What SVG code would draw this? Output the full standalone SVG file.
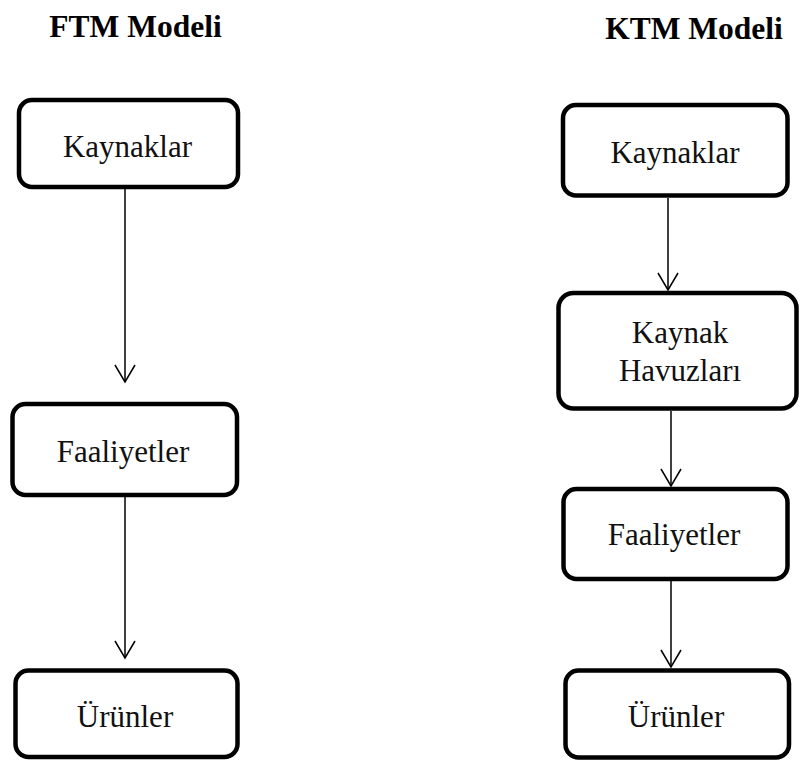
<svg xmlns="http://www.w3.org/2000/svg" width="800" height="760" viewBox="0 0 800 760">
<style>
.box{fill:#fff;stroke:#000;stroke-width:4.5}
.lbl{font-family:"Liberation Serif","Times New Roman",serif;font-size:31px;fill:#111;text-anchor:middle}
.ttl{font-family:"Liberation Serif","Times New Roman",serif;font-size:31.5px;font-weight:bold;fill:#000;text-anchor:middle}
.con{stroke:#000;stroke-width:1.5;fill:none}
</style>
<defs>
<marker id="arr" markerUnits="userSpaceOnUse" markerWidth="40" markerHeight="40" refX="0" refY="0" orient="auto" overflow="visible">
<path d="M-17,-10 L0,0 L-17,10" fill="none" stroke="#000" stroke-width="1.5"/>
</marker>
</defs>
<rect width="800" height="760" fill="#fff"/>
<g id="titles">
<text class="ttl" x="135.5" y="37">FTM Modeli</text>
<text class="ttl" x="694" y="39">KTM Modeli</text>
</g>
<g id="connectors">
<line class="con" x1="125" y1="189" x2="125" y2="382" marker-end="url(#arr)"/>
<line class="con" x1="125" y1="497" x2="125" y2="658" marker-end="url(#arr)"/>
<line class="con" x1="668" y1="198" x2="668" y2="290" marker-end="url(#arr)"/>
<line class="con" x1="671" y1="411" x2="671" y2="486" marker-end="url(#arr)"/>
<line class="con" x1="671" y1="581" x2="671" y2="667" marker-end="url(#arr)"/>
</g>
<g id="ftm-kaynaklar">
<rect class="box" x="19" y="100" width="219" height="87" rx="13"/>
<text class="lbl" x="127.5" y="157">Kaynaklar</text>
</g>
<g id="ftm-faaliyetler">
<rect class="box" x="12.5" y="404" width="224.5" height="91" rx="13"/>
<text class="lbl" x="123" y="462">Faaliyetler</text>
</g>
<g id="ftm-urunler">
<rect class="box" x="15.5" y="670.5" width="222" height="86.5" rx="13"/>
<text class="lbl" x="125" y="727">Ürünler</text>
</g>
<g id="ktm-kaynaklar">
<rect class="box" x="563" y="105" width="224.5" height="90.5" rx="13"/>
<text class="lbl" x="675" y="163">Kaynaklar</text>
</g>
<g id="ktm-havuzlar">
<rect class="box" x="558.5" y="293" width="238" height="115.5" rx="15"/>
<text class="lbl" x="680" y="343">Kaynak</text>
<text class="lbl" x="680" y="381">Havuzları</text>
</g>
<g id="ktm-faaliyetler">
<rect class="box" x="563.5" y="489" width="224" height="90" rx="13"/>
<text class="lbl" x="674" y="545">Faaliyetler</text>
</g>
<g id="ktm-urunler">
<rect class="box" x="565.5" y="670.5" width="223.5" height="87" rx="13"/>
<text class="lbl" x="676" y="727">Ürünler</text>
</g>
</svg>
